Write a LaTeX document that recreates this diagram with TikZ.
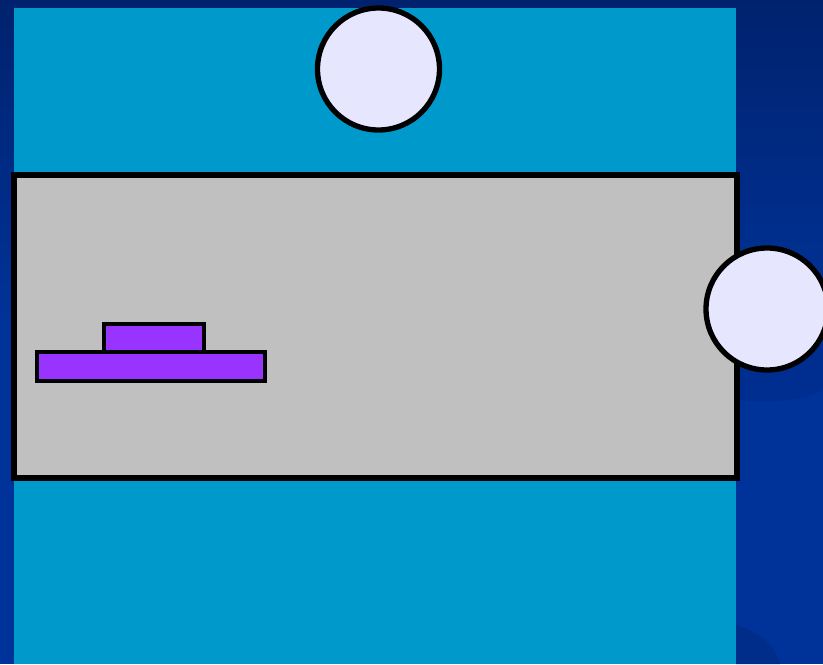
\documentclass[tikz,border=0pt]{standalone}
\definecolor{bgblue}{RGB}{0,51,153}
\definecolor{bgtop}{RGB}{0,34,110}
\definecolor{swoosh}{RGB}{0,44,138}
\definecolor{panelblue}{RGB}{0,153,204}
\definecolor{boxgray}{RGB}{192,192,192}
\definecolor{disclav}{RGB}{230,230,255}
\definecolor{platepurple}{RGB}{153,51,255}
\begin{document}
\begin{tikzpicture}[x=0.75pt,y=-0.75pt,
  box/.style={draw=black,line width=4pt,fill=boxgray},
  disc/.style={circle,draw=black,line width=4pt,fill=disclav,minimum size=122*0.75pt,inner sep=0pt},
  plate/.style={draw=black,line width=3.3pt,fill=platepurple}]
\useasboundingbox (0,0) rectangle (823,664);
% background
\fill[bgblue] (0,0) rectangle (823,664);
\shade[top color=bgtop,bottom color=bgblue] (0,0) rectangle (823,330);
\fill[swoosh,opacity=0.6] (736,400) .. controls (780,405) and (810,398) .. (823,390) -- (823,345) -- (736,345) -- cycle;
\fill[swoosh] (736,625) .. controls (760,632) and (775,645) .. (780,664) -- (736,664) -- cycle;
% panel
\fill[panelblue] (14,8) rectangle (736,664);
% gray box
\draw[box] (14,175) rectangle (737,478);
% plates
\draw[plate] (104,324) rectangle (204,352);
\draw[plate] (37,352) rectangle (265,381);
% discs
\node[disc] (top) at (378.5,69) {};
\node[disc] (right) at (767,309) {};
\end{tikzpicture}
\end{document}
